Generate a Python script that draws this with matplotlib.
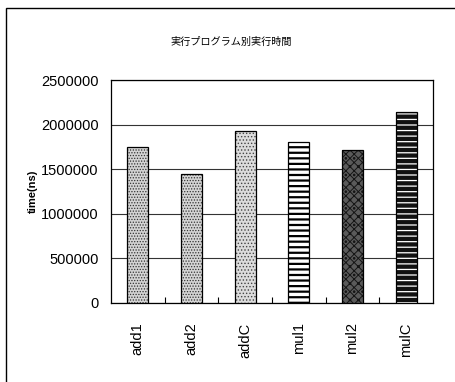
import matplotlib.pyplot as plt
from matplotlib.patches import Rectangle

# execution time per program (ns)
programs = ["add1", "add2", "addC", "mul1", "mul2", "mulC"]
times_ns = [1750000, 1450000, 1930000, 1800000, 1710000, 2145000]
y_ticks = [0, 500000, 1000000, 1500000, 2000000, 2500000]

title = "実行プログラム別実行時間"
y_label = "time(ns)"

# fill styles for each bar: (face, hatch, hatch colour, hatch width)
fills = [
    ("#d4d4d4", "......", "#333333", 0.6),
    ("#d4d4d4", "......", "#333333", 0.6),
    ("#dcdcdc", ".....", "#444444", 0.6),
    ("#ffffff", "---", "#000000", 1.6),
    ("#5a5a5a", "xxxx..", "#151515", 0.7),
    ("#111111", "---", "#ffffff", 0.9),
]

plt.rcParams['font.family'] = ['Liberation Sans', 'Noto Sans CJK JP', 'DejaVu Sans']

fig = plt.figure(figsize=(4.56, 3.82), dpi=100)

# outer chart frame
fig.patches.append(Rectangle((6 / 456, -0.1), 1.2, 1 - 8 / 382 + 0.1,
                             transform=fig.transFigure, fill=False,
                             edgecolor='black', linewidth=1.0))

ax = fig.add_axes([111 / 456, 79 / 382, 322 / 456, 223 / 382])

x = range(len(programs))
for i, (face, hatch, hcol, hlw) in enumerate(fills):
    with plt.rc_context({'hatch.linewidth': hlw}):
        ax.bar(i, times_ns[i], width=0.39, color=face, hatch=hatch,
               edgecolor=hcol, linewidth=0, zorder=3)
ax.bar(x, times_ns, width=0.39, fill=False, edgecolor='black',
       linewidth=0.9, zorder=4)

ax.set_xlim(-0.5, len(programs) - 0.5)
ax.set_ylim(0, 2500000)
ax.set_yticks(y_ticks)
ax.set_yticklabels([str(v) for v in y_ticks], fontsize=10.5)
ax.yaxis.grid(True, color='#333333', linewidth=0.8, zorder=1)
ax.tick_params(axis='y', length=0, pad=9)

ax.set_xticks([i + 0.5 for i in range(len(programs) - 1)])
ax.set_xticklabels([])
ax.set_xticks(list(x), minor=True)
ax.set_xticklabels(programs, minor=True, rotation=90, fontsize=10.5)
ax.tick_params(axis='x', which='major', direction='in', length=4, width=0.8)
ax.tick_params(axis='x', which='minor', length=0, pad=14)

for s in ax.spines.values():
    s.set_linewidth(0.9)

fig.text(0.506, 0.89, title, ha='center', va='center', fontsize=7.3,
         family=['Noto Sans CJK JP', 'DejaVu Sans'])
fig.text(0.072, 0.5, y_label, ha='center', va='center', rotation=90,
         fontsize=8, fontweight='bold')

fig.savefig("out.png", dpi=100)
